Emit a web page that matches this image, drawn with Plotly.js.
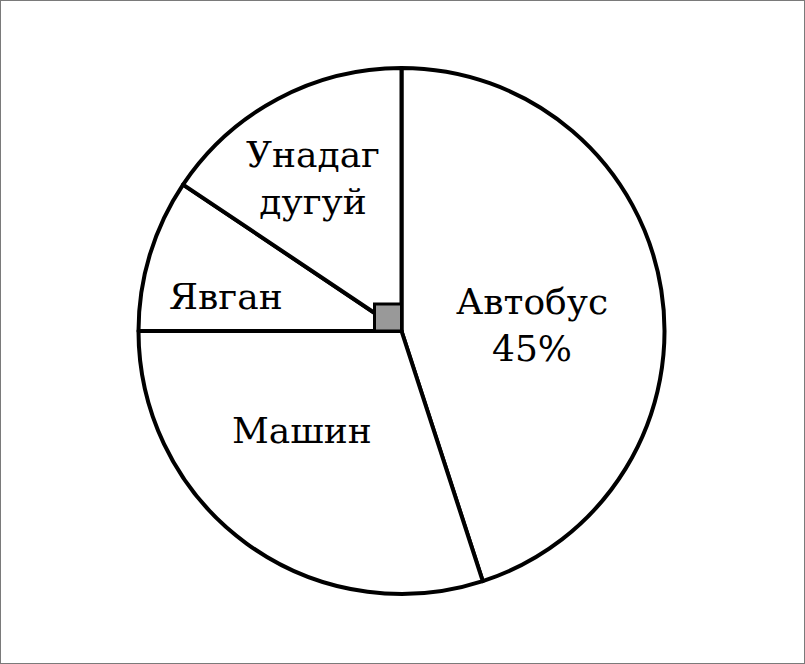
<!DOCTYPE html>
<html>
<head>
<meta charset="utf-8">
<script src="https://cdn.plot.ly/plotly-3.0.1.min.js"></script>
<style>
  html, body { margin: 0; padding: 0; background: #fff; }
  #chart { width: 803px; height: 662px; border: 1px solid #7a7a7a; }
</style>
</head>
<body>
<div id="chart"></div>
<script>
// Data
const categories = ["Автобус", "Машин", "Явган", "Унадаг<br>дугуй"];
const values = [45, 30, 9.4, 15.6];
const shownLabels = ["Автобус<br>45%", "Машин", "Явган", "Унадаг<br>дугуй"];

// Layout geometry (pixels in the 803x662 plot)
const W = 803, H = 662;
const cx = 400.5, cy = 330, R = 263;
const labelPos = [[531, 324], [301, 429], [225, 295], [312, 177]];

const trace = {
  type: "pie",
  labels: categories,
  values: values,
  sort: false,
  direction: "clockwise",
  rotation: 0,
  textinfo: "none",
  hoverinfo: "skip",
  marker: { colors: ["#ffffff", "#ffffff", "#ffffff", "#ffffff"], line: { color: "#000000", width: 4 } },
  domain: { x: [(cx - R) / W, (cx + R) / W], y: [(H - cy - R) / H, (H - cy + R) / H] },
  showlegend: false
};

const sq = 27;
const layout = {
  width: W, height: H,
  margin: { l: 0, r: 0, t: 0, b: 0 },
  paper_bgcolor: "#ffffff",
  showlegend: false,
  font: { family: "DejaVu Serif" },
  annotations: shownLabels.map((t, i) => ({
    text: t,
    xref: "paper", yref: "paper",
    x: labelPos[i][0] / W, y: 1 - labelPos[i][1] / H,
    xanchor: "center", yanchor: "middle",
    showarrow: false,
    font: { family: "DejaVu Serif", size: 36, color: "#000" }
  })),
  shapes: [{
    type: "rect", xref: "paper", yref: "paper",
    x0: (cx - sq) / W, x1: cx / W,
    y0: (H - cy) / H, y1: (H - cy + sq) / H,
    fillcolor: "#999999",
    line: { color: "#000000", width: 3 }
  }]
};

Plotly.newPlot("chart", [trace], layout, { displayModeBar: false, staticPlot: true });
</script>
</body>
</html>
